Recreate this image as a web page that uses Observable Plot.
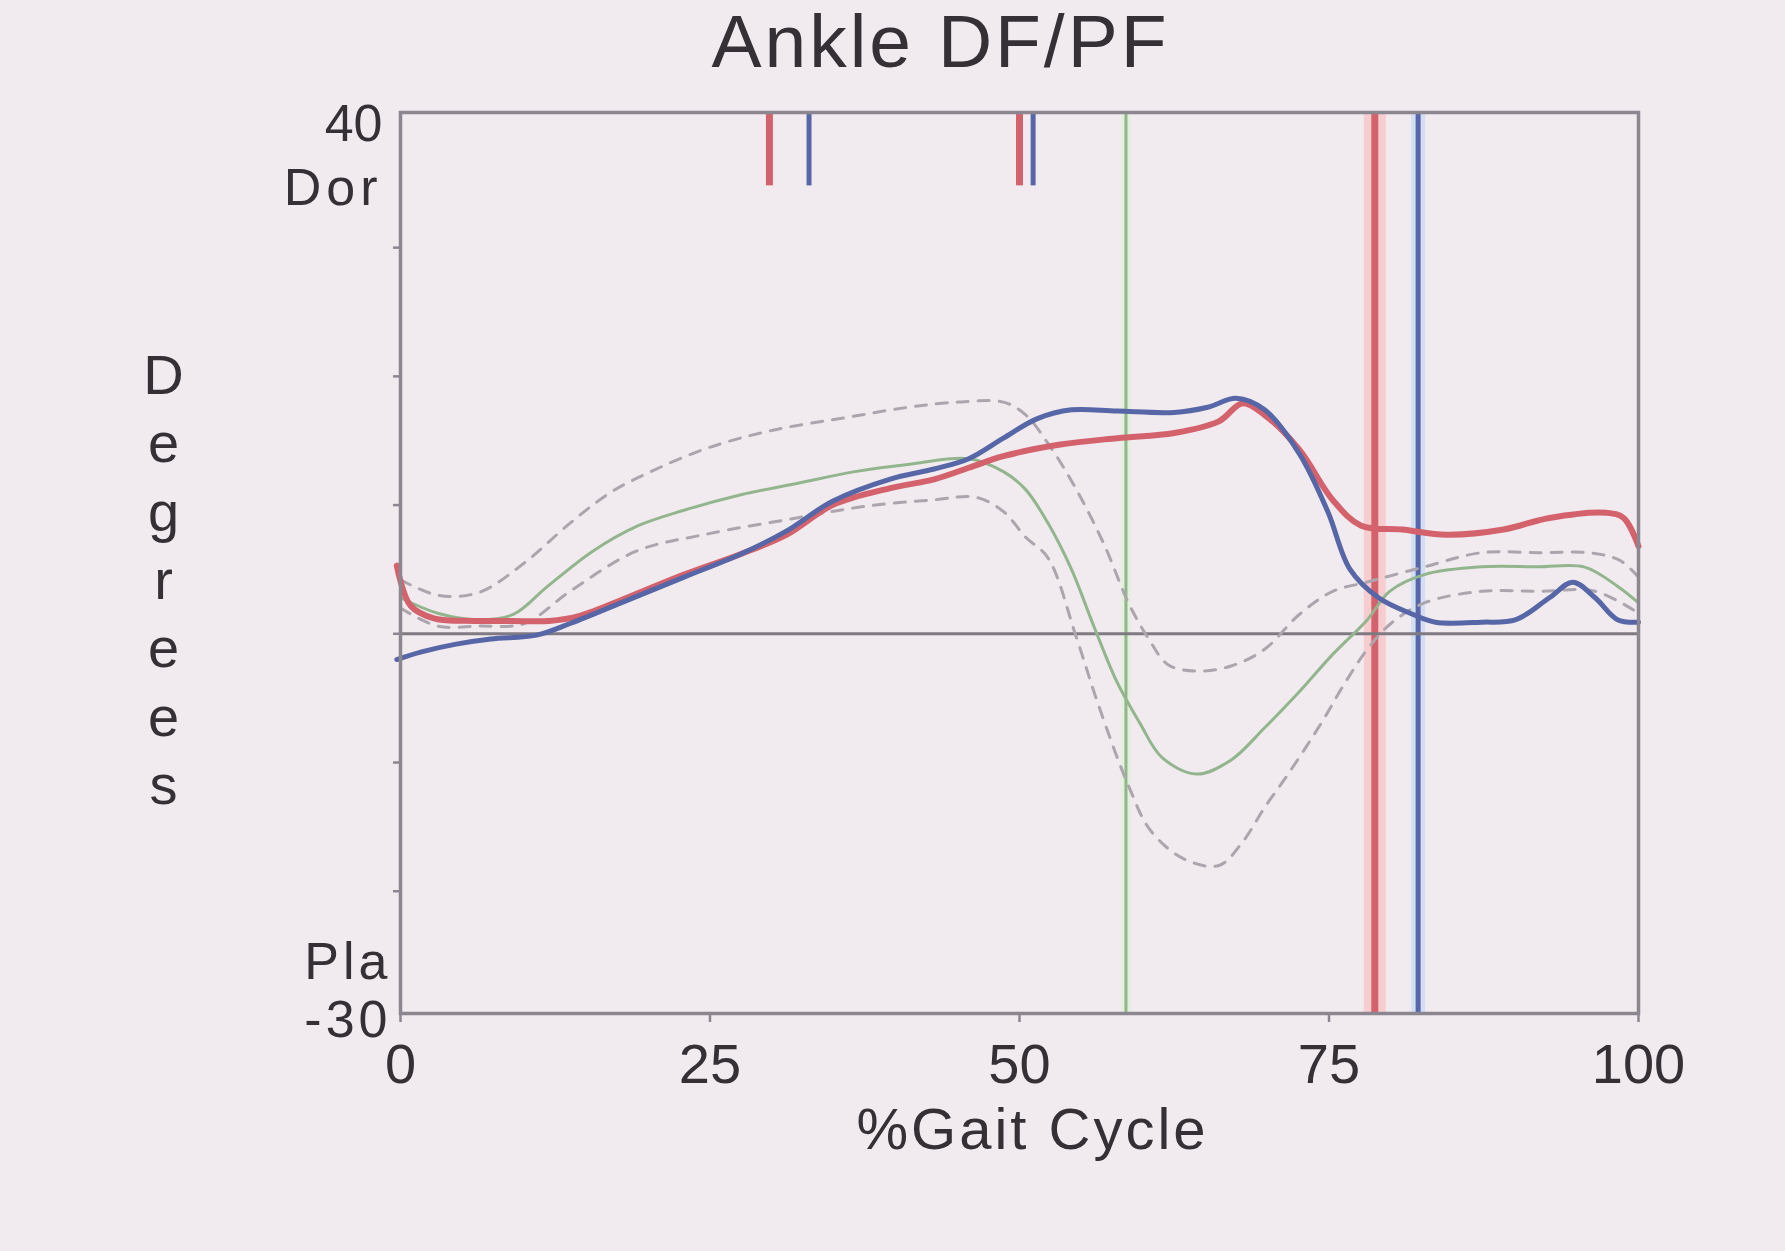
<!DOCTYPE html>
<html>
<head>
<meta charset="utf-8">
<script src="https://cdn.jsdelivr.net/npm/d3@7"></script>
<script src="https://cdn.jsdelivr.net/npm/@observablehq/plot@0.6"></script>
<style>
  html, body { margin: 0; padding: 0; background: #f1ebf0; }
  #title {
    width: 1785px; height: 74px; box-sizing: border-box;
    padding-top: 8px; padding-left: 96px;
    text-align: center; line-height: 66px;
    font-family: "Liberation Sans", Arial, sans-serif;
    font-size: 75px; letter-spacing: 3px; color: #343036;
  }
  #chart { width: 1785px; height: 1177px; }
</style>
</head>
<body>
<div id="title">Ankle DF/PF</div>
<div id="chart"></div>
<script>
// ---- data ----
const xLabel = "%Gait Cycle";
const yLabelLetters = "Degrees";
const xTicks = [0, 25, 50, 75, 100];
const yMinorTicks = [30, 20, 10, 0, -10, -20];
const yLabelsTop = [{label: "40", y: 39.6}, {label: "Dor", y: 34.6}];
const yLabelsBottom = [{label: "Pla", y: -25.5}, {label: "-30", y: -30}];

// patient curve (red)
const redCurve = [
  [-0.3,5.3],[0.8,2.2],[2.7,1.2],[6,1.0],[9,1.0],[12,1.0],[14.5,1.4],[18.3,2.8],
  [22.9,4.6],[27.5,6.2],[31.2,7.7],[34.9,10.0],[39.5,11.3],[43.1,12.0],[45.9,12.9],
  [48.7,13.8],[53.3,14.7],[57.9,15.2],[62.5,15.6],[66.1,16.5],[68,17.9],[69.8,17.0],
  [72.6,14.3],[75.3,10.4],[77.6,8.4],[80.9,8.1],[84.5,7.7],[89.1,8.1],[92.8,9.0],
  [97.4,9.4],[98.8,9.0],[100,6.8]
];
// patient curve (blue)
const blueCurve = [
  [-0.3,-2.0],[1.7,-1.4],[4.5,-0.8],[7.3,-0.4],[11,-0.1],[13.7,0.8],[18.3,2.6],
  [22.9,4.4],[27.5,6.2],[31.2,8.0],[34.9,10.3],[39.5,12.0],[43.1,12.8],[45.9,13.6],
  [48.7,15.2],[51.4,16.7],[54.2,17.4],[57.9,17.3],[62.5,17.2],[65.2,17.6],[67.5,18.3],
  [69.8,17.4],[72.6,14.0],[74.9,9.5],[76.7,5.0],[79,2.8],[81.8,1.5],[83.6,0.9],
  [87.3,0.9],[90.1,1.1],[92.8,2.8],[94.7,4.0],[96.5,2.8],[98.3,1.1],[100,0.9]
];
// normal mean (green)
const normalMean = [
  [0,2.8],[3,1.6],[6.3,1.1],[9.1,1.5],[11.9,3.7],[15.5,6.4],[19.2,8.4],[22.9,9.6],
  [27.5,10.8],[32.1,11.7],[36.7,12.6],[41.3,13.2],[45.9,13.6],[48.7,12.6],[50.5,11.2],
  [52.3,8.6],[54.2,5.0],[56,0.6],[57.9,-3.8],[59.7,-6.9],[61.5,-9.6],[64.3,-10.9],
  [67.1,-9.8],[69.8,-7.3],[72.6,-4.5],[75.3,-1.6],[78.1,1.1],[79.9,3.3],[82.7,4.6],
  [87.3,5.2],[91.9,5.2],[95.6,5.2],[98.3,3.7],[100,2.4]
];
// normal +1 SD (dashed)
const normalUpper = [
  [0,4.2],[3,3.0],[6.3,3.2],[10,5.5],[13.7,8.6],[17,11.0],[20,12.5],[24.7,14.4],
  [30,15.8],[36,16.8],[41,17.6],[45,18.0],[48.7,18.0],[50.5,17.0],[52.3,14.8],
  [54.6,11.2],[56.9,6.8],[58.8,2.4],[60.5,-0.5],[62,-2.4],[64.3,-2.9],[67.1,-2.5],
  [69.8,-1.2],[72.6,1.5],[75.3,3.3],[78,4.0],[82.7,5.2],[87.3,6.3],[92,6.3],
  [96,6.3],[98.5,5.7],[100,4.4]
];
// normal -1 SD (dashed)
const normalLower = [
  [0,2.0],[3,0.6],[6.3,0.6],[10,0.8],[13.7,3.3],[19,6.4],[24.5,7.7],[32,9.0],
  [37.5,9.9],[43,10.4],[46.5,10.6],[48.7,9.5],[50.5,7.5],[52.3,5.9],[54.6,-0.3],
  [56.4,-5.6],[58.8,-11.8],[60.6,-15.3],[63.3,-17.5],[66.1,-18.0],[68,-16.2],
  [69.8,-13.5],[71.7,-10.9],[74.4,-6.9],[76.3,-3.8],[78.1,-1.2],[80,0.8],[82.7,2.4],
  [87.3,3.3],[92,3.3],[96.5,3.3],[100,1.6]
];
// event lines
const normalToeOff = [58.6];
const redToeOff = [78.7];
const blueToeOff = [82.2];
const eventMarkers = [
  {x: 29.8, side: "red",  y1: 40.5, y2: 34.8},
  {x: 33.0, side: "blue", y1: 40.5, y2: 34.8},
  {x: 50.0, side: "red",  y1: 40.5, y2: 34.8},
  {x: 51.1, side: "blue", y1: 40.5, y2: 34.8}
];

// ---- styles ----
const RED = "#d4626c", RED_HALO = "#f8cdd0";
const BLUE = "#5766a6", BLUE_HALO = "#d3def4";
const GREEN = "#93b58d", GREEN_HALO = "#e2f0dc";
const GREY = "#aca5ae", FRAME = "#8c8690", INK = "#343036";

const pts = a => a.map(([x, y]) => ({x, y}));

const chart = Plot.plot({
  width: 1785,
  height: 1177,
  marginLeft: 400,
  marginRight: 147,
  marginTop: 38,
  marginBottom: 238,
  x: {domain: [0, 100]},
  y: {domain: [-29.5, 40.5]},
  style: {background: "transparent", fontFamily: "'Liberation Sans', Arial, sans-serif", color: INK},
  marks: [
    // event verticals
    Plot.ruleX(normalToeOff, {stroke: GREEN_HALO, strokeWidth: 9}),
    Plot.ruleX(normalToeOff, {stroke: GREEN, strokeWidth: 3}),
    Plot.ruleX(redToeOff, {stroke: RED_HALO, strokeWidth: 22}),
    Plot.ruleX(redToeOff, {stroke: RED, strokeWidth: 7}),
    Plot.ruleX(blueToeOff, {stroke: BLUE_HALO, strokeWidth: 14}),
    Plot.ruleX(blueToeOff, {stroke: BLUE, strokeWidth: 5}),
    Plot.ruleX(eventMarkers, {x: "x", y1: "y1", y2: "y2",
      stroke: d => d.side === "red" ? RED : BLUE,
      strokeWidth: d => d.side === "red" ? 7 : 5}),
    // zero line
    Plot.ruleY([0], {stroke: "#7f7a82", strokeWidth: 3}),
    // normal band and mean
    Plot.line(pts(normalUpper), {x: "x", y: "y", stroke: GREY, strokeWidth: 3, strokeDasharray: "11,10", curve: "catmull-rom"}),
    Plot.line(pts(normalLower), {x: "x", y: "y", stroke: GREY, strokeWidth: 3, strokeDasharray: "11,10", curve: "catmull-rom"}),
    Plot.line(pts(normalMean), {x: "x", y: "y", stroke: GREEN, strokeWidth: 3, curve: "catmull-rom"}),
    // patient curves
    Plot.line(pts(redCurve), {x: "x", y: "y", stroke: RED, strokeWidth: 6, curve: "catmull-rom", strokeLinejoin: "round"}),
    Plot.line(pts(blueCurve), {x: "x", y: "y", stroke: BLUE, strokeWidth: 5, curve: "catmull-rom", strokeLinejoin: "round"}),
    // frame and axes
    Plot.frame({stroke: FRAME, strokeWidth: 3.5}),
    Plot.axisX({ticks: xTicks, tickFormat: d => String(d), tickSize: 9, tickPadding: 21,
      fontSize: 56, stroke: FRAME, strokeWidth: 2.5, fill: INK, label: null}),
    Plot.axisY({ticks: yMinorTicks, tickFormat: () => "", tickSize: 7,
      stroke: FRAME, strokeWidth: 2.5, label: null}),
    Plot.text(yLabelsTop, {y: "y", text: "label", frameAnchor: "left", dx: -18,
      textAnchor: "end", fontSize: 52, fill: INK}),
    Plot.text(yLabelsBottom, {y: "y", text: "label", frameAnchor: "left", dx: -9,
      textAnchor: "end", fontSize: 52, fill: INK}),
    Plot.text([yLabelLetters.split("").join("\n")], {text: d => d, frameAnchor: "left",
      dx: -237, dy: 14, lineHeight: 1.22, fontSize: 56, textAnchor: "middle", fill: INK}),
    Plot.text([xLabel], {text: d => d, frameAnchor: "bottom", dx: 13, dy: 135,
      fontSize: 58, textAnchor: "middle", fill: INK})
  ]
});

// widen the scanned-looking labels slightly with letter spacing
const spaced = new Map([["Dor", 5], ["Pla", 4], ["-30", 4], [xLabel, 3]]);
d3.select(chart).selectAll("text").each(function () {
  const t = this.textContent;
  if (spaced.has(t)) d3.select(this).attr("letter-spacing", spaced.get(t));
});
document.getElementById("chart").appendChild(chart);
</script>
</body>
</html>
